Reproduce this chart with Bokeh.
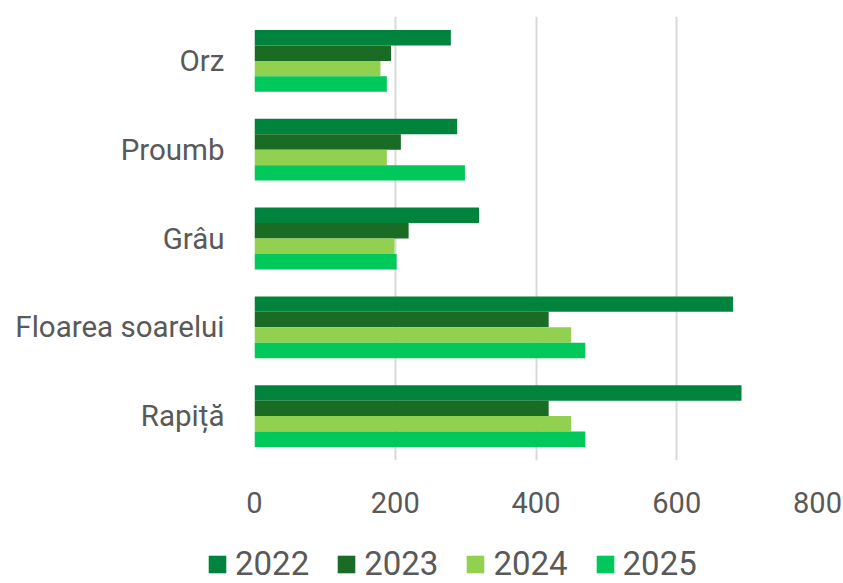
from bokeh.plotting import figure
from bokeh.layouts import column
from bokeh.models import FactorRange, Range1d, Legend, LegendItem, FixedTicker, ColumnDataSource
from bokeh.transform import dodge
from bokeh.embed import file_html
from bokeh.resources import INLINE

crops = ["Orz", "Proumb", "Grâu", "Floarea soarelui", "Rapiță"]
years = ["2022", "2023", "2024", "2025"]
v2022 = [279, 288, 319, 680, 692]
v2023 = [194, 208, 219, 418, 418]
v2024 = [179, 188, 199, 450, 450]
v2025 = [188, 299, 202, 470, 470]
x_ticks = [0, 200, 400, 600, 800]

colors = ["#00843D", "#1A6B24", "#92D050", "#00C85A"]
offsets = [0.261, 0.087, -0.087, -0.261]
TEXT = "#595959"
FONT = "Roboto"

source = ColumnDataSource(dict(crop=crops, v2022=v2022, v2023=v2023, v2024=v2024, v2025=v2025))

p = figure(width=843, height=540, output_backend="svg", toolbar_location=None,
           x_range=Range1d(0, 800), y_range=FactorRange(*reversed(crops)),
           min_border_left=254, min_border_right=26, min_border_top=16, min_border_bottom=80)

for yr, col, off in zip(years, colors, offsets):
    p.hbar(y=dodge("crop", off, range=p.y_range), left=0, right="v" + yr, height=0.174,
           source=source, fill_color=col, line_color=None)

p.outline_line_color = None
p.ygrid.grid_line_color = None
p.xgrid.grid_line_color = "#D9D9D9"
p.xgrid.grid_line_width = 2
p.xaxis.ticker = FixedTicker(ticks=x_ticks)

for ax in (p.xaxis[0], p.yaxis[0]):
    ax.axis_line_color = None
    ax.major_tick_line_color = None
    ax.minor_tick_line_color = None
    ax.major_label_text_color = TEXT
    ax.major_label_text_font = FONT
p.yaxis.major_label_text_font_size = "29.5px"
p.yaxis.major_label_standoff = 24
p.xaxis.major_label_text_font_size = "29px"
p.xaxis.major_label_standoff = 25

# legend strip (separate figure, its own frame spanning the full width)
lg = figure(width=843, height=43, output_backend="svg", toolbar_location=None,
            x_range=Range1d(0, 1), y_range=Range1d(0, 1),
            x_axis_location=None, y_axis_location=None,
            min_border_left=0, min_border_right=0, min_border_top=0, min_border_bottom=0)
if "frame_align" in lg.properties():
    lg.frame_align = False
    p.frame_align = False
lg.outline_line_color = None
lg.grid.grid_line_color = None
items = []
for yr, col in zip(years, colors):
    r = lg.hbar(y=[0], left=[0], right=[0], height=0, fill_color=col, line_color=None)
    items.append(LegendItem(label=yr, renderers=[r]))

legend = Legend(items=items, orientation="horizontal", location=(206, 0),
                label_text_font=FONT, label_text_font_size="33px", label_text_color=TEXT,
                label_text_line_height=0.8,
                glyph_width=22, glyph_height=22, label_standoff=7, spacing=26,
                padding=0, margin=0, background_fill_alpha=0, border_line_color=None)
lg.add_layout(legend, "center")

layout = column(p, lg, spacing=0)
open("out.html", "w").write(file_html(layout, INLINE))
